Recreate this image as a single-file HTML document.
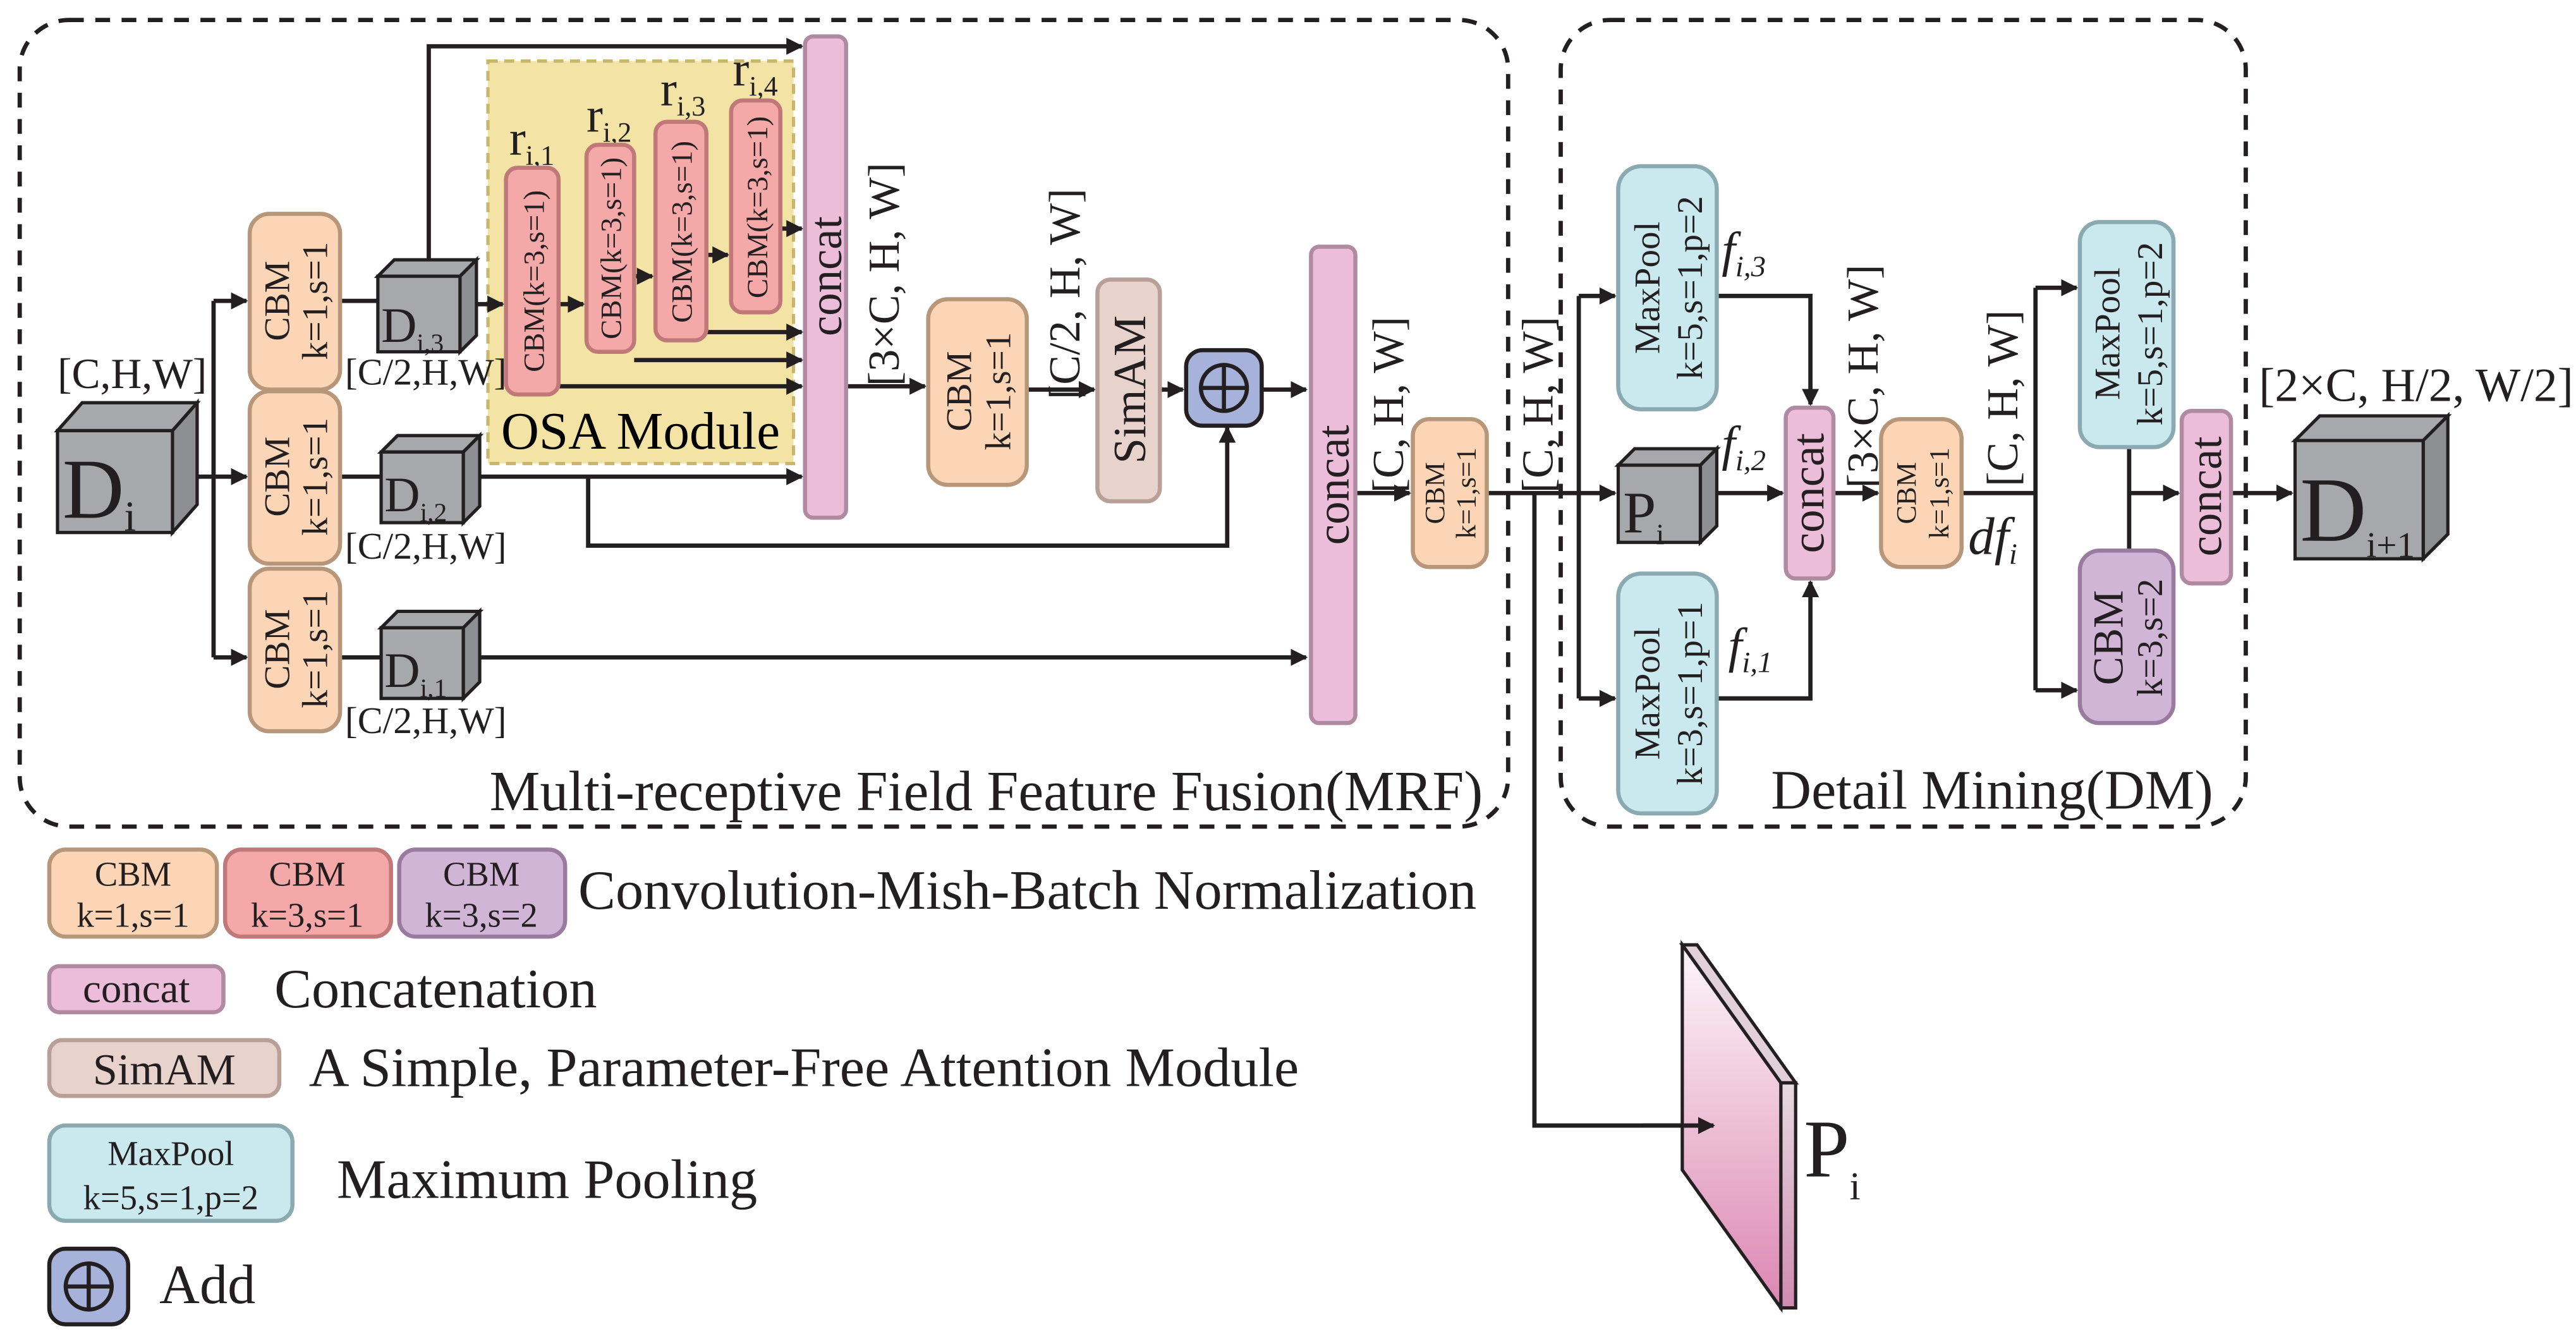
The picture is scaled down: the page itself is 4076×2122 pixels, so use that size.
<!DOCTYPE html>
<html><head><meta charset="utf-8"><style>html,body{margin:0;padding:0;background:#fff}svg{display:block}</style></head>
<body>
<svg width="4076" height="2122" viewBox="0 0 1568 816" xmlns="http://www.w3.org/2000/svg" font-family="Liberation Serif, serif">
<defs>
<marker id="a" viewBox="0 0 10 10" refX="9" refY="5" markerWidth="4" markerHeight="4" orient="auto"><path d="M0,0L10,5L0,10z" fill="#231f20"/></marker>
<linearGradient id="pg" x1="0" y1="0" x2="0" y2="1"><stop offset="0" stop-color="#fdf6f9"/><stop offset="1" stop-color="#dc86b2"/></linearGradient>
<linearGradient id="pg2" x1="0" y1="0" x2="0" y2="1"><stop offset="0" stop-color="#e6d9e0"/><stop offset="1" stop-color="#d08ab0"/></linearGradient>
</defs>
<g fill="none" stroke="#231f20" stroke-width="2.6" stroke-dasharray="9,7">
<rect x="12" y="12" width="906" height="491" rx="30"/>
<rect x="950" y="12" width="417" height="491" rx="30"/>
</g>
<rect x="297" y="37" width="186" height="245" fill="#f3e3a5" stroke="#c9b56b" stroke-width="2" stroke-dasharray="6,4"/>
<text x="305" y="273" font-size="32">OSA Module</text>

<g stroke="#231f20" stroke-width="2.6" fill="none">
<path d="M120,290H130"/>
<path d="M130,183V400"/>
<path d="M130,183H150" marker-end="url(#a)"/>
<path d="M130,290H150" marker-end="url(#a)"/>
<path d="M130,400H150" marker-end="url(#a)"/>
<path d="M207,183H230M207,290H232M207,400H232"/>
<path d="M261,160V28H488" marker-end="url(#a)"/>
<path d="M290,185H306" marker-end="url(#a)"/>
<path d="M340,185H355" marker-end="url(#a)"/>
<path d="M386,168H397" marker-end="url(#a)"/>
<path d="M430,155H443" marker-end="url(#a)"/>
<path d="M475,139H488" marker-end="url(#a)"/>
<path d="M430,202H488" marker-end="url(#a)"/>
<path d="M386,219H488" marker-end="url(#a)"/>
<path d="M340,235H488" marker-end="url(#a)"/>
<path d="M282,290H488" marker-end="url(#a)"/>
<path d="M358,290V332H747V260" marker-end="url(#a)"/>
<path d="M282,400H795" marker-end="url(#a)"/>
<path d="M515,235H563" marker-end="url(#a)"/>
<path d="M625,237H666" marker-end="url(#a)"/>
<path d="M706,237H720" marker-end="url(#a)"/>
<path d="M768,237H795" marker-end="url(#a)"/>
<path d="M825,300H858" marker-end="url(#a)"/>
<path d="M905,300H961"/>
<path d="M934,300V685H1043" marker-end="url(#a)"/>
<path d="M961,180V425"/>
<path d="M961,180H983" marker-end="url(#a)"/>
<path d="M961,300H983" marker-end="url(#a)"/>
<path d="M961,425H983" marker-end="url(#a)"/>
<path d="M1045,180H1102V246" marker-end="url(#a)"/>
<path d="M1045,425H1102V354" marker-end="url(#a)"/>
<path d="M1040,300H1085" marker-end="url(#a)"/>
<path d="M1116,300H1143" marker-end="url(#a)"/>
<path d="M1194,300H1239"/>
<path d="M1239,175V420"/>
<path d="M1239,175H1264" marker-end="url(#a)"/>
<path d="M1239,420H1264" marker-end="url(#a)"/>
<path d="M1296,272V335"/>
<path d="M1296,300H1326" marker-end="url(#a)"/>
<path d="M1358,300H1395" marker-end="url(#a)"/>
</g>

<g stroke="#231f20" stroke-width="2" fill="#a7a8ab">
<path d="M35,262L50,245H120L105,262Z"/><path d="M105,262L120,245V307L105,324Z" fill="#8e8f92"/><rect x="35" y="262" width="70" height="62"/>
<path d="M230,168L240,158H290L280,168Z"/><path d="M280,168L290,158V204L280,214Z" fill="#8e8f92"/><rect x="230" y="168" width="50" height="46"/>
<path d="M232,275L242,265H292L282,275Z"/><path d="M282,275L292,265V308L282,318Z" fill="#8e8f92"/><rect x="232" y="275" width="50" height="43"/>
<path d="M232,382L242,372H292L282,382Z"/><path d="M282,382L292,372V415L282,425Z" fill="#8e8f92"/><rect x="232" y="382" width="50" height="43"/>
<path d="M985,283L995,273H1045L1035,283Z"/><path d="M1035,283L1045,273V320L1035,330Z" fill="#8e8f92"/><rect x="985" y="283" width="50" height="47"/>
<path d="M1397,268L1412,253H1490L1475,268Z"/><path d="M1475,268L1490,253V325L1475,340Z" fill="#8e8f92"/><rect x="1397" y="268" width="78" height="72"/>
</g>
<g fill="#231f20">
<text x="38" y="315" font-size="52">D<tspan font-size="26" dy="8">i</tspan></text>
<text x="232" y="208" font-size="30">D<tspan font-size="16" dy="6">i,3</tspan></text>
<text x="234" y="311" font-size="30">D<tspan font-size="16" dy="6">i,2</tspan></text>
<text x="234" y="418" font-size="30">D<tspan font-size="16" dy="6">i,1</tspan></text>
<text x="988" y="324" font-size="36">P<tspan font-size="18" dy="7">i</tspan></text>
<text x="1400" y="329" font-size="56">D<tspan font-size="22" dy="10">i+1</tspan></text>
<text x="35" y="236" font-size="26">[C,H,W]</text>
<text x="210" y="234" font-size="23">[C/2,H,W]</text>
<text x="210" y="340" font-size="23">[C/2,H,W]</text>
<text x="210" y="446" font-size="23">[C/2,H,W]</text>
<text x="1375" y="244" font-size="29">[2×C, H/2, W/2]</text>
<text x="310" y="94" font-size="30">r<tspan font-size="17" dy="6">i,1</tspan></text>
<text x="357" y="80" font-size="30">r<tspan font-size="17" dy="6">i,2</tspan></text>
<text x="402" y="64" font-size="30">r<tspan font-size="17" dy="6">i,3</tspan></text>
<text x="446" y="52" font-size="30">r<tspan font-size="17" dy="6">i,4</tspan></text>
<text x="298" y="493" font-size="34.5">Multi-receptive Field Feature Fusion(MRF)</text>
<text x="1078" y="492" font-size="34">Detail Mining(DM)</text>
<text x="1048" y="162" font-size="30" font-style="italic">f<tspan font-size="18" dy="6">i,3</tspan></text>
<text x="1048" y="280" font-size="30" font-style="italic">f<tspan font-size="18" dy="6">i,2</tspan></text>
<text x="1052" y="403" font-size="30" font-style="italic">f<tspan font-size="18" dy="6">i,1</tspan></text>
<text x="1198" y="337" font-size="32" font-style="italic">df<tspan font-size="18" dy="6">i</tspan></text>
<text x="1098" y="716" font-size="50">P<tspan font-size="24" dy="14">i</tspan></text>
</g>
<g fill="#231f20" font-size="27">
<text transform="translate(547,235) rotate(-90)">[3×C, H, W]</text>
<text transform="translate(657,243) rotate(-90)">[C/2, H, W]</text>
<text transform="translate(854,300) rotate(-90)">[C, H, W]</text>
<text transform="translate(945,300) rotate(-90)">[C, H, W]</text>
<text transform="translate(1143,297) rotate(-90)">[3×C, H, W]</text>
<text transform="translate(1228,296) rotate(-90)">[C, H, W]</text>
</g>

<g stroke-width="2.5">
<g fill="#fbd5b5" stroke="#b8967a">
<rect x="152" y="130" width="55" height="107" rx="12"/>
<rect x="152" y="238" width="55" height="105" rx="12"/>
<rect x="152" y="346" width="55" height="99" rx="12"/>
<rect x="565" y="182" width="60" height="113" rx="12"/>
<rect x="860" y="255" width="45" height="90" rx="10"/>
<rect x="1145" y="255" width="49" height="90" rx="12"/>
<rect x="30" y="517" width="102" height="53" rx="10"/>
</g>
<g fill="#f5a8a8" stroke="#c07878">
<rect x="308" y="102" width="32" height="138" rx="7"/>
<rect x="357" y="88" width="29" height="126" rx="7"/>
<rect x="399" y="74" width="31" height="133" rx="7"/>
<rect x="445" y="61" width="30" height="129" rx="7"/>
<rect x="137" y="517" width="101" height="53" rx="10"/>
</g>
<g fill="#ecbdd8" stroke="#b08aa0">
<rect x="490" y="22" width="25" height="293" rx="5"/>
<rect x="798" y="150" width="27" height="290" rx="5"/>
<rect x="1087" y="248" width="29" height="104" rx="6"/>
<rect x="1328" y="250" width="30" height="105" rx="6"/>
<rect x="30" y="588" width="106" height="28" rx="6"/>
</g>
<g fill="#e8d3cc" stroke="#b89f98">
<rect x="668" y="170" width="38" height="135" rx="8"/>
<rect x="30" y="633" width="140" height="34" rx="8"/>
</g>
<g fill="#c9e9ef" stroke="#8aa9b0">
<rect x="985" y="101" width="60" height="148" rx="14"/>
<rect x="985" y="349" width="60" height="146" rx="14"/>
<rect x="1266" y="135" width="57" height="137" rx="12"/>
<rect x="30" y="685" width="148" height="58" rx="10"/>
</g>
<g fill="#d1b5d6" stroke="#9a7ba0">
<rect x="1266" y="335" width="57" height="105" rx="12"/>
<rect x="243" y="517" width="101" height="53" rx="10"/>
</g>
<g fill="#a7b2db" stroke="#231f20">
<rect x="722" y="213" width="46" height="46" rx="10"/>
<rect x="30" y="760" width="48" height="46" rx="10"/>
</g>
</g>
<g stroke="#231f20" stroke-width="2.5" fill="none">
<circle cx="745" cy="236" r="14"/><path d="M731,236H759M745,222V250"/>
<circle cx="54" cy="783" r="14"/><path d="M40,783H68M54,769V797"/>
</g>
<g stroke="#231f20" stroke-width="2">
<path d="M1024,575L1033,575L1093,659L1084,659Z" fill="#e2d0d9"/>
<path d="M1084,659H1093V796H1084Z" fill="url(#pg2)"/>
<path d="M1024,575L1084,659V796L1024,712Z" fill="url(#pg)"/>
</g>
<path d="M1000,685H1043" stroke="#231f20" stroke-width="2.6" marker-end="url(#a)"/>

<g fill="#231f20" text-anchor="middle">
<g font-size="22">
<text transform="translate(176,183) rotate(-90)">CBM</text><text transform="translate(199,183) rotate(-90)">k=1,s=1</text>
<text transform="translate(176,290) rotate(-90)">CBM</text><text transform="translate(199,290) rotate(-90)">k=1,s=1</text>
<text transform="translate(176,395) rotate(-90)">CBM</text><text transform="translate(199,395) rotate(-90)">k=1,s=1</text>
<text transform="translate(591,238) rotate(-90)">CBM</text><text transform="translate(615,238) rotate(-90)">k=1,s=1</text>
</g>
<g font-size="17">
<text transform="translate(879,300) rotate(-90)">CBM</text><text transform="translate(898,300) rotate(-90)">k=1,s=1</text>
<text transform="translate(1166,300) rotate(-90)">CBM</text><text transform="translate(1186,300) rotate(-90)">k=1,s=1</text>
</g>
<g font-size="18">
<text transform="translate(331,171) rotate(-90)">CBM(k=3,s=1)</text>
<text transform="translate(378,151) rotate(-90)">CBM(k=3,s=1)</text>
<text transform="translate(421,141) rotate(-90)">CBM(k=3,s=1)</text>
<text transform="translate(467,126) rotate(-90)">CBM(k=3,s=1)</text>
</g>
<g font-size="28">
<text transform="translate(512,168) rotate(-90)">concat</text>
<text transform="translate(821,295) rotate(-90)">concat</text>
<text transform="translate(1110,300) rotate(-90)">concat</text>
<text transform="translate(1352,302) rotate(-90)">concat</text>
<text transform="translate(697,237) rotate(-90)">SimAM</text>
</g>
<g font-size="22">
<text transform="translate(1010,175) rotate(-90)">MaxPool</text><text transform="translate(1036,175) rotate(-90)">k=5,s=1,p=2</text>
<text transform="translate(1010,422) rotate(-90)">MaxPool</text><text transform="translate(1036,422) rotate(-90)">k=3,s=1,p=1</text>
<text transform="translate(1290,203) rotate(-90)">MaxPool</text><text transform="translate(1316,203) rotate(-90)">k=5,s=1,p=2</text>
<text transform="translate(1292,388) rotate(-90)" font-size="26">CBM</text><text transform="translate(1316,388) rotate(-90)">k=3,s=2</text>
</g>
<g font-size="21">
<text x="81" y="539">CBM</text><text x="81" y="564">k=1,s=1</text>
<text x="187" y="539">CBM</text><text x="187" y="564">k=3,s=1</text>
<text x="293" y="539">CBM</text><text x="293" y="564">k=3,s=2</text>
<text x="83" y="610" font-size="25">concat</text>
<text x="100" y="660" font-size="27">SimAM</text>
<text x="104" y="709">MaxPool</text><text x="104" y="736">k=5,s=1,p=2</text>
</g>
</g>
<g fill="#231f20" font-size="34">
<text x="352" y="553">Convolution-Mish-Batch Normalization</text>
<text x="167" y="613">Concatenation</text>
<text x="188" y="661">A Simple, Parameter-Free Attention Module</text>
<text x="205" y="729">Maximum Pooling</text>
<text x="97" y="793">Add</text>
</g>
</svg>
</body></html>
